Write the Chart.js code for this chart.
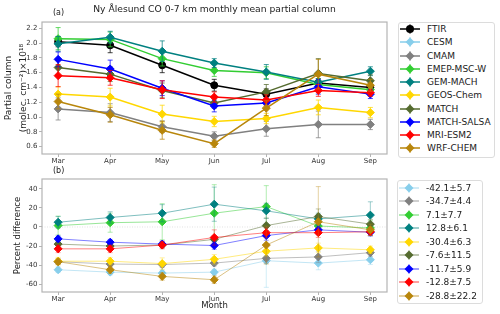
<!DOCTYPE html>
<html>
<head>
<meta charset="utf-8">
<script src="https://cdn.jsdelivr.net/npm/chart.js@4.4.0/dist/chart.umd.min.js"></script>
<style>
    body { margin: 0; background: #fff; font-family: "DejaVu Sans", sans-serif; }
    #page { position: relative; width: 500px; height: 314px; overflow: hidden; }
    .box { position: absolute; }
    .tag { position: absolute; font-size: 8px; color: #222; }
    .legend { position: absolute; border: 1px solid #dcdcdc; border-radius: 3px; background: #fff; box-sizing: border-box; }
    .row { position: absolute; left: 0; display: flex; align-items: center; font-size: 9px; color: #1a1a1a; white-space: nowrap; }
    .row svg { margin-left: 1px; margin-right: 7px; }
</style>
</head>
<body>
<div id="page">
    <div class="box" style="left:0;top:0;width:392px;height:166px"><canvas id="chartA"></canvas></div>
    <div class="box" style="left:0;top:165px;width:392px;height:149px"><canvas id="chartB"></canvas></div>
    <div class="tag" style="left:53px;top:8px">(a)</div>
    <div class="tag" style="left:53px;top:166px">(b)</div>
    <div class="legend" id="legendA" style="left:398px;top:22px;width:97px;height:136px"></div>
    <div class="legend" id="legendB" style="left:397px;top:180px;width:86px;height:124px"></div>
</div>
<script>
const months = ['Mar', 'Apr', 'May', 'Jun', 'Jul', 'Aug', 'Sep'];
const models = ['FTIR', 'CESM', 'CMAM', 'EMEP-MSC-W', 'GEM-MACH', 'GEOS-Chem', 'MATCH', 'MATCH-SALSA', 'MRI-ESM2', 'WRF-CHEM'];
const colors = ['#000000', '#87ceeb', '#808080', '#32cd32', '#008080', '#ffd700', '#556b2f', '#0000ff', '#ff0000', '#b8860b'];

// (a) partial column, x10^18 molec/cm2
const colFTIR  = [2.02, 1.97, 1.70, 1.43, 1.31, 1.46, 1.40];
const colCESM  = [null, null, null, null, null, null, null];
const colCMAM  = [1.11, 1.06, 0.87, 0.74, 0.84, 0.90, 0.90];
const colEMEP  = [2.06, 2.05, 1.79, 1.63, 1.60, 1.44, 1.37];
const colGEM   = [1.99, 2.08, 1.89, 1.73, 1.61, 1.47, 1.62];
const colGEOS  = [1.31, 1.27, 1.04, 0.94, 0.98, 1.13, 1.06];
const colMATCH = [1.67, 1.58, 1.36, 1.19, 1.34, 1.59, 1.49];
const colSALSA = [1.78, 1.65, 1.39, 1.15, 1.19, 1.41, 1.31];
const colMRI   = [1.56, 1.53, 1.37, 1.27, 1.23, 1.36, 1.33];
const colWRF   = [1.21, 1.03, 0.82, 0.64, 1.12, 1.58, 1.43];

const errFTIR  = [0.07, 0.10, 0.10, 0.08, 0.07, 0.06, 0.06];
const errCESM  = [0, 0, 0, 0, 0, 0, 0];
const errCMAM  = [0.15, 0.12, 0.08, 0.06, 0.10, 0.18, 0.07];
const errEMEP  = [0.15, 0.10, 0.10, 0.08, 0.08, 0.08, 0.06];
const errGEM   = [0.10, 0.08, 0.14, 0.06, 0.10, 0.10, 0.06];
const errGEOS  = [0.10, 0.12, 0.12, 0.07, 0.07, 0.10, 0.07];
const errMATCH = [0.10, 0.10, 0.10, 0.07, 0.10, 0.20, 0.08];
const errSALSA = [0.10, 0.12, 0.10, 0.08, 0.07, 0.10, 0.06];
const errMRI   = [0.15, 0.10, 0.12, 0.07, 0.07, 0.08, 0.05];
const errWRF   = [0.10, 0.10, 0.12, 0.05, 0.10, 0.20, 0.08];

// (b) percent difference to FTIR
const pctCESM  = [-45, -47.5, -48.5, -47.5, -35.5, -38, -34.5];
const pctCMAM  = [-36.5, -39, -39.5, -38, -33, -31.5, -27];
const pctEMEP  = [1.5, 4.5, 5.5, 14.5, 21.5, 1, -1];
const pctGEM   = [5, 10, 14.5, 24, 17, 8.5, 12.5];
const pctGEOS  = [-36, -36, -38.5, -34, -25.5, -22, -24];
const pctMATCH = [-18, -20, -19, -13, 1.5, 11, 3];
const pctSALSA = [-12.5, -16, -18, -19.5, -9, -3, -5.5];
const pctMRI   = [-23, -23, -19, -11, -6, -6, -5];
const pctWRF   = [-36.5, -45, -52, -55.5, -19, 5.5, -3];

const pctErrCESM  = [3, 3, 3, 3, 28, 7, 5];
const pctErrCMAM  = [3, 3, 3, 3, 5, 6, 4];
const pctErrEMEP  = [10, 10, 19, 30, 22, 5, 8];
const pctErrGEM   = [6, 6, 9, 18, 8, 6, 14];
const pctErrGEOS  = [4, 4, 6, 5, 5, 5, 4];
const pctErrMATCH = [3, 3, 3, 4, 8, 8, 5];
const pctErrSALSA = [3, 3, 3, 4, 5, 5, 4];
const pctErrMRI   = [4, 4, 4, 8, 5, 5, 4];
const pctErrWRF   = [3, 4, 4, 4, 20, 37, 6];

const pctStats = ['-42.1±5.7', '-34.7±4.4', '7.1±7.7', '12.8±6.1', '-30.4±6.3', '-7.6±11.5', '-11.7±5.9', '-12.8±7.5', '-28.8±22.2'];

const colValues = [colFTIR, colCESM, colCMAM, colEMEP, colGEM, colGEOS, colMATCH, colSALSA, colMRI, colWRF];
const colErrors = [errFTIR, errCESM, errCMAM, errEMEP, errGEM, errGEOS, errMATCH, errSALSA, errMRI, errWRF];
const pctValues = [pctCESM, pctCMAM, pctEMEP, pctGEM, pctGEOS, pctMATCH, pctSALSA, pctMRI, pctWRF];
const pctErrors = [pctErrCESM, pctErrCMAM, pctErrEMEP, pctErrGEM, pctErrGEOS, pctErrMATCH, pctErrSALSA, pctErrMRI, pctErrWRF];

function rgba(hex, a) {
    const n = parseInt(hex.slice(1), 16);
    return `rgba(${n >> 16}, ${(n >> 8) & 255}, ${n & 255}, ${a})`;
}

// error bars drawn just under each series, like matplotlib errorbar
const errorBars = {
    id: 'errorBars',
    beforeDatasetDraw(chart, args) {
        const ds = chart.data.datasets[args.index];
        if (!ds.err) return;
        const ctx = chart.ctx;
        const xs = chart.scales.x, ys = chart.scales.y;
        ctx.save();
        ctx.strokeStyle = ds.errColor;
        ctx.lineWidth = 1;
        ds.data.forEach((p, i) => {
            if (p.y === null || !ds.err[i]) return;
            const px = xs.getPixelForValue(p.x);
            const top = ys.getPixelForValue(p.y + ds.err[i]);
            const bot = ys.getPixelForValue(p.y - ds.err[i]);
            ctx.beginPath();
            ctx.moveTo(px, top); ctx.lineTo(px, bot);
            ctx.moveTo(px - 2.5, top); ctx.lineTo(px + 2.5, top);
            ctx.moveTo(px - 2.5, bot); ctx.lineTo(px + 2.5, bot);
            ctx.stroke();
        });
        ctx.restore();
    }
};

const frame = {
    id: 'frame',
    beforeDatasetsDraw(chart) {
        if (!chart.options.zeroLine) return;
        const {ctx, chartArea} = chart;
        const y0 = chart.scales.y.getPixelForValue(0);
        ctx.save();
        ctx.strokeStyle = '#e2e2e2';
        ctx.setLineDash([1, 1.5]);
        ctx.beginPath();
        ctx.moveTo(chartArea.left, y0);
        ctx.lineTo(chartArea.right, y0);
        ctx.stroke();
        ctx.restore();
    },
    afterDatasetsDraw(chart) {
        const {ctx, chartArea} = chart;
        ctx.save();
        ctx.strokeStyle = '#b4b4b4';
        ctx.lineWidth = 1.2;
        ctx.strokeRect(chartArea.left, chartArea.top, chartArea.right - chartArea.left, chartArea.bottom - chartArea.top);
        ctx.restore();
    }
};

function makeSets(values, errors, colorList, lineAlpha, lineWidth, circleFirst) {
    return values.map((vals, i) => ({
        label: i,
        data: vals.map((v, j) => ({x: j, y: v})),
        err: errors[i],
        errColor: rgba(colorList[i], lineAlpha * 0.75),
        borderColor: rgba(colorList[i], lineAlpha),
        borderWidth: lineWidth,
        pointStyle: (circleFirst && i === 0) ? 'circle' : 'rectRot',
        pointRadius: (circleFirst && i === 0) ? 3.5 : 4,
        pointBackgroundColor: colorList[i],
        pointBorderColor: colorList[i],
        pointBorderWidth: 1,
        order: -i,
        tension: 0,
        fill: false
    }));
}

function xScale(showTitle) {
    return {
        type: 'linear',
        min: -0.31,
        max: 6.32,
        ticks: {
            stepSize: 1,
            includeBounds: false,
            autoSkip: false,
            maxRotation: 0,
            padding: 0,
            color: '#333',
            font: {family: 'DejaVu Sans', size: 7},
            callback: v => months[v]
        },
        grid: {display: true, drawOnChartArea: false, drawTicks: true, tickLength: 3, color: '#b4b4b4'},
        border: {display: false},
        title: {display: showTitle, text: 'Month', color: '#222', font: {family: 'DejaVu Sans', size: 8.5}, padding: {top: 0, bottom: 3}},
        afterFit: a => { a.height = showTitle ? 22 : 12; }
    };
}

function yScale(min, max, step, titleText, titleFont, titleLine, titlePad) {
    return {
        type: 'linear',
        min: min,
        max: max,
        ticks: {
            stepSize: step,
            includeBounds: false,
            padding: 1.5,
            color: '#333',
            font: {family: 'DejaVu Sans', size: 7},
            callback: v => step < 1 ? v.toFixed(1) : String(v)
        },
        grid: {display: true, drawOnChartArea: false, drawTicks: true, tickLength: 3, color: '#b4b4b4'},
        border: {display: false},
        title: {display: true, text: titleText, color: '#222', font: {family: 'DejaVu Sans', size: titleFont, lineHeight: titleLine}, padding: {top: titlePad, bottom: 0}},
        afterFit: a => { a.width = 42; }
    };
}

const chartA = new Chart(document.getElementById('chartA'), {
    type: 'line',
    data: {datasets: makeSets(colValues, colErrors, colors, 1, 1.5, true)},
    options: {
        responsive: true,
        maintainAspectRatio: false,
        animation: false,
        events: [],
        layout: {padding: {left: 0, top: 0, right: 3, bottom: 0}},
        plugins: {
            legend: {display: false},
            tooltip: {enabled: false},
            title: {
                display: true,
                fullSize: false,
                text: 'Ny Ålesund CO 0-7 km monthly mean partial column',
                color: '#222',
                font: {family: 'DejaVu Sans', size: 9.2, weight: 'normal'},
                padding: {top: 4, bottom: 7}
            }
        },
        scales: {
            x: xScale(false),
            y: yScale(0.5, 2.285, 0.2, ['Partial column', '(molec. cm⁻²)×10¹⁸'], 9, 1.65, 1)
        }
    },
    plugins: [errorBars, frame]
});

const chartB = new Chart(document.getElementById('chartB'), {
    type: 'line',
    data: {datasets: makeSets(pctValues, pctErrors, colors.slice(1), 0.5, 1, false)},
    options: {
        responsive: true,
        maintainAspectRatio: false,
        animation: false,
        events: [],
        zeroLine: true,
        layout: {padding: {left: 0, top: 14, right: 3, bottom: 0}},
        plugins: {
            legend: {display: false},
            tooltip: {enabled: false}
        },
        scales: {
            x: xScale(true),
            y: yScale(-68.4, 50.5, 20, 'Percent difference', 8.5, 1.2, 13)
        }
    },
    plugins: [errorBars, frame]
});

// matplotlib-like legends: line + marker + small error handle
function symbol(color, lineAlpha, circle) {
    const line = rgba(color, lineAlpha);
    const mark = circle
        ? `<circle cx="10" cy="5" r="4" fill="${color}"/>`
        : `<polygon points="5.5,5 10,0.5 14.5,5 10,9.5" fill="${color}"/>`;
    return `<svg width="20" height="10" viewBox="0 0 20 10">
        <line x1="0" y1="5" x2="20" y2="5" stroke="${line}" stroke-width="1.5"/>
        <line x1="10" y1="0" x2="10" y2="10" stroke="${rgba(color, lineAlpha * 0.75)}" stroke-width="1"/>
        ${mark}</svg>`;
}

function buildLegend(el, labels, colorList, lineAlpha, firstY, step, circleFirst) {
    el.innerHTML = labels.map((name, i) =>
        `<div class="row" style="top:${firstY + i * step - 6}px;height:12px">
            ${symbol(colorList[i], lineAlpha, circleFirst && i === 0)}<span>${name}</span>
        </div>`
    ).join('');
}

buildLegend(document.getElementById('legendA'), models, colors, 1, 6, 13.27, true);
buildLegend(document.getElementById('legendB'), pctStats, colors.slice(1), 0.5, 6.5, 13.5, false);
</script>
</body>
</html>
